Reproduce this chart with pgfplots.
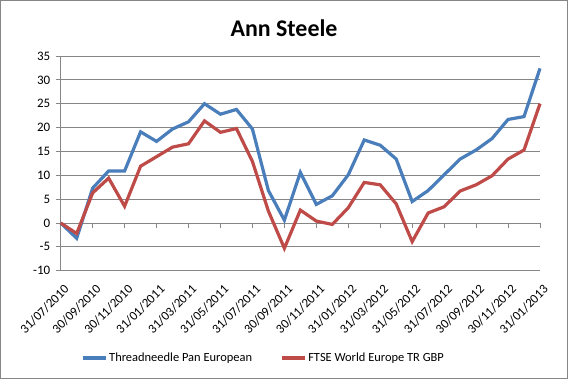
\documentclass[border=0pt]{standalone}
\usepackage{pgfplots}
\pgfplotsset{compat=1.18}
\usepackage{fontspec}
\setmainfont{Carlito}
\definecolor{blueS}{HTML}{4A7EBB}
\definecolor{redS}{HTML}{BE4B48}
\definecolor{gridc}{HTML}{868686}
\begin{document}
\begin{tikzpicture}
\useasboundingbox (0bp,0bp) rectangle (568bp,379bp);
\draw[gridc, line width=0.8bp] (0.5bp,0.5bp) rectangle (567.5bp,378.5bp);
\node[font=\fontsize{24}{28}\selectfont\bfseries] at (284bp,350.5bp) {Ann Steele};
\begin{axis}[
  at={(60.7bp,108.3bp)}, anchor=south west,
  scale only axis, width=479.3bp, height=214.7bp,
  xmin=0, xmax=30, ymin=-10, ymax=35,
  ytick={-10,-5,...,35},
  xtick={0,2,...,30},
  xticklabels={31/07/2010,30/09/2010,30/11/2010,31/01/2011,31/03/2011,31/05/2011,31/07/2011,30/09/2011,30/11/2011,31/01/2012,31/03/2012,31/05/2012,31/07/2012,30/09/2012,30/11/2012,31/01/2013},
  axis y line*=left, axis x line*=bottom,
  x axis line style={draw=none},
  y axis line style={gridc, line width=0.8bp, -},
  xtick style={draw=none},
  ytick style={gridc, line width=0.8bp},
  tick align=outside, major tick length=5bp,
  ymajorgrids, grid style={gridc, line width=0.8bp},
  tick label style={font=\fontsize{13}{15}\selectfont},
  /pgf/number format/assume math mode=true,
  yticklabel style={xshift=-2bp},
  xticklabel style={xshift=2.5bp, yshift=-8bp, rotate=45, anchor=north east, inner sep=0pt},
  legend columns=2,
  legend style={at={(0.423,-0.4066)}, anchor=center, draw=none, font=\fontsize{12.5}{14}\selectfont,
    /tikz/every even column/.append style={column sep=26bp}, inner sep=0pt},
  legend image code/.code={\draw[#1, line width=3.2bp] (0bp,0bp) -- (23bp,0bp);},
  clip=false,
]
\draw[gridc, line width=0.8bp] (axis cs:0,0) -- (axis cs:30,0);
\pgfplotsinvokeforeach{0,2,...,30}{\draw[gridc, line width=0.8bp] (axis cs:#1,0) -- (axis cs:#1,-1.05);}
\addplot[blueS, line width=3.2bp] coordinates {
(0,0) (1,-3.2) (2,7.3) (3,10.9) (4,10.9) (5,19.1) (6,17.1) (7,19.7) (8,21.2) (9,25.0)
(10,22.8) (11,23.8) (12,19.7) (13,6.8) (14,0.6) (15,10.6) (16,3.9) (17,5.7) (18,10.1) (19,17.4)
(20,16.3) (21,13.4) (22,4.5) (23,6.8) (24,10.1) (25,13.4) (26,15.3) (27,17.7) (28,21.7) (29,22.3) (30,32.4)
};
\addlegendentry{Threadneedle Pan European}
\addplot[redS, line width=3.2bp] coordinates {
(0,0) (1,-2.2) (2,6.3) (3,9.4) (4,3.5) (5,11.9) (6,13.9) (7,15.9) (8,16.6) (9,21.4)
(10,19.0) (11,19.8) (12,12.9) (13,2.5) (14,-5.3) (15,2.7) (16,0.4) (17,-0.3) (18,3.2) (19,8.5)
(20,8.0) (21,4.0) (22,-3.9) (23,2.1) (24,3.4) (25,6.7) (26,8.0) (27,9.9) (28,13.4) (29,15.3) (30,25.0)
};
\addlegendentry{FTSE World Europe TR GBP}
\end{axis}
\end{tikzpicture}
\end{document}
